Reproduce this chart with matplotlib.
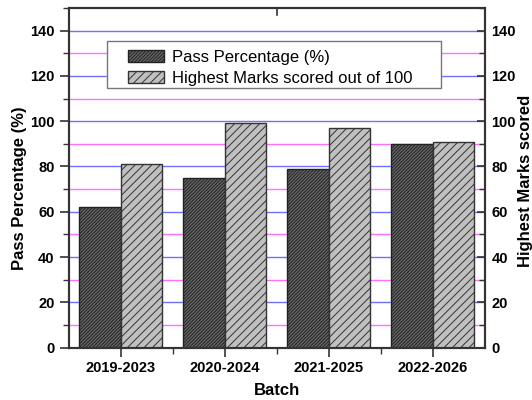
import matplotlib
matplotlib.use("Agg")
import matplotlib.pyplot as plt
import numpy as np
from matplotlib.patches import Rectangle
from matplotlib.ticker import MultipleLocator, FixedLocator

plt.rcParams['font.family'] = ['Liberation Sans', 'DejaVu Sans']
plt.rcParams['hatch.linewidth'] = 0.7

batches = ["2019-2023", "2020-2024", "2021-2025", "2022-2026"]
pass_pct = [62, 75, 79, 90]
highest_marks = [81, 99, 97, 91]

fig = plt.figure(figsize=(5.32, 4.0), dpi=100)
ax = fig.add_axes([0.129, 0.131, 0.782, 0.849])

x = np.arange(1, len(batches) + 1)
w = 0.4

# grid: blue at major ticks, magenta at minor ticks
for yv in range(20, 150, 20):
    ax.axhline(yv, color='#7070ff', lw=1.0, zorder=0)
for yv in range(10, 150, 20):
    ax.axhline(yv, color='#ff70ff', lw=1.0, zorder=0)

b1 = ax.bar(x - w / 2, pass_pct, w, color='#666666', edgecolor='#222222',
            hatch='//////////', lw=1.0, zorder=2, label='Pass Percentage (%)')
b2 = ax.bar(x + w / 2, highest_marks, w, color='#c0c0c0', edgecolor='#333333',
            hatch='////', lw=1.0, zorder=2, label='Highest Marks scored out of 100')

ax.set_xlim(0.5, 4.5)
ax.set_ylim(0, 150)
ax.set_xticks(x)
ax.set_xticklabels(batches, fontsize=10.5, fontweight='bold')
ax.xaxis.set_minor_locator(FixedLocator([1.5, 2.5, 3.5]))
ax.set_yticks(range(0, 141, 20))
ax.yaxis.set_minor_locator(MultipleLocator(10))
ax.tick_params(axis='both', which='major', direction='out', length=6.5, width=1.2,
               labelsize=10.5, pad=3.5, colors='#333333', labelcolor='black')
ax.tick_params(axis='both', which='minor', direction='out', length=4, width=1.0,
               colors='#333333')
for lab in ax.get_yticklabels():
    lab.set_fontweight('bold')

ax.set_xlabel('Batch', fontsize=12, fontweight='bold')
ax.xaxis.set_label_coords(0.5, -0.105)
ax.set_ylabel('Pass Percentage (%)', fontsize=12, fontweight='bold')
ax.yaxis.set_label_coords(-0.10, 0.47)

for s in ax.spines.values():
    s.set_linewidth(1.5)
    s.set_color('#333333')

ax2 = ax.twinx()
ax2.set_ylim(0, 150)
ax2.set_yticks(range(0, 141, 20))
ax2.yaxis.set_minor_locator(MultipleLocator(10))
ax2.tick_params(axis='y', which='major', direction='in', length=6, width=1.2,
                labelsize=10.5, pad=5, colors='#333333', labelcolor='black')
ax2.tick_params(axis='y', which='minor', direction='in', length=4.5, width=1.0,
                colors='#333333')
for lab in ax2.get_yticklabels():
    lab.set_fontweight('bold')
ax2.set_ylabel('Highest Marks scored', fontsize=12, fontweight='bold')
ax2.yaxis.set_label_coords(1.08, 0.49)
for s in ax2.spines.values():
    s.set_linewidth(1.5)
    s.set_color('#333333')

# single inward tick on the top edge
ax.plot([2.5, 2.5], [150, 147], color='#333333', lw=1.2, clip_on=False, zorder=5)

# legend box drawn separately, entries placed inside it
ax2.add_patch(Rectangle((0.092, 0.764), 0.803, 0.14, transform=ax2.transAxes,
                        facecolor='white', edgecolor='#777777', lw=1.0, zorder=8))
leg = ax2.legend(handles=[b1, b2], loc='upper left',
                 bbox_to_anchor=(0.1425, 0.877), fontsize=12, frameon=False,
                 borderaxespad=0, borderpad=0, handlelength=2.16,
                 handleheight=0.78, labelspacing=0.36, handletextpad=0.46)
leg.set_zorder(9)

fig.savefig('out.png', dpi=100)
